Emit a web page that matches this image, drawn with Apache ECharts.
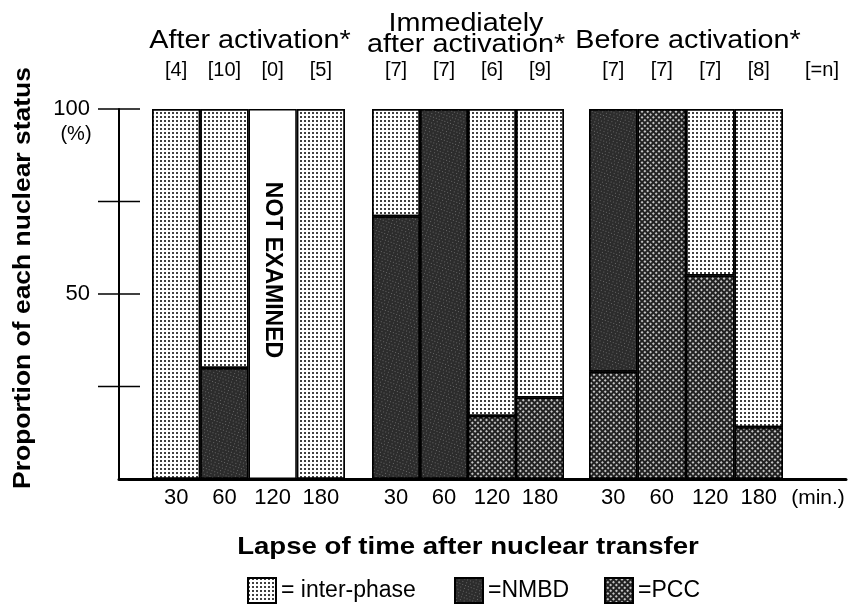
<!DOCTYPE html>
<html><head><meta charset="utf-8">
<script src="https://cdn.jsdelivr.net/npm/echarts@6/dist/echarts.min.js"></script>
<style>html,body{margin:0;padding:0;background:#fff}#c{width:850px;height:606px}</style>
</head><body><div id="c"></div>
<script>
// ---- data ----
const times = ['30', '60', '120', '180'];
const groupTitles = ['After activation*', 'Immediately\nafter activation*', 'Before activation*'];
const nCounts = [[4, 10, 0, 5], [7, 7, 6, 9], [7, 7, 7, 8]];
const pcc        = [[0, 0, 0, 0],     [0, 0, 17, 22],  [29, 100, 55, 14]];
const nmbd       = [[0, 30, 0, 0],    [71, 100, 0, 0], [71, 0, 0, 0]];
const interphase = [[100, 70, 0, 100],[29, 0, 83, 78], [0, 0, 45, 86]];
const notExamined= [[0, 0, 100, 0],   [0, 0, 0, 0],    [0, 0, 0, 0]];
const yTickValues = [25, 50, 75, 100];
const yLabelValues = [50, 100];
const legendNames = ['inter-phase', 'NMBD', 'PCC'];
const legendTexts = ['= inter-phase', '=NMBD', '=PCC'];

// ---- styles / layout ----
const FF = '"Liberation Sans", Arial, sans-serif';
const interDecal = {symbol: 'circle', symbolSize: 1, color: '#000', dashArrayX: [2, 2], dashArrayY: [2, 2], rotation: 0};
const nmbdDecal = {symbol: 'rect', symbolSize: 1, color: 'rgba(150,150,150,0.55)', dashArrayX: [[1, 2], [1, 3]], dashArrayY: [1, 2], rotation: 0.35};
const pccDecal = {symbol: 'rect', symbolSize: 1, color: 'rgba(215,215,215,0.9)', dashArrayX: [1.5, 1.5], dashArrayY: [1.5, 1.5], rotation: Math.PI / 4};
const styleOf = {
  'inter-phase': {color: '#ffffff', borderColor: '#000', borderWidth: 1.5, decal: interDecal},
  'NMBD': {color: '#2c2c2c', borderColor: '#000', borderWidth: 1.5, decal: nmbdDecal},
  'PCC': {color: '#222222', borderColor: '#000', borderWidth: 1.5, decal: pccDecal}
};
const groupLeft = [152, 372, 589];
const groupWidth = [193, 192, 194];
const titleX = [250, 466, 688];
const PLOT_TOP = 109, PLOT_BOTTOM = 127;
const TICK_HALF = 21;

const nz = v => (v === 0 ? '-' : v);

// grid 0: main axes (y axis + long baseline)
const grid = [{left: 119, right: 4, top: PLOT_TOP, bottom: PLOT_BOTTOM}];
const xAxis = [{
  gridIndex: 0, type: 'value', min: 0, max: 1,
  axisLine: {show: true, lineStyle: {color: '#000', width: 3}},
  axisTick: {show: false}, axisLabel: {show: false}, splitLine: {show: false}
}];
const yAxis = [{
  gridIndex: 0, type: 'value', min: 0, max: 100, interval: 25,
  axisLine: {show: true, lineStyle: {color: '#000', width: 2}},
  axisTick: {show: false},
  axisLabel: {show: true, margin: 29, color: '#000', fontSize: 22, fontFamily: FF,
    formatter: v => (yLabelValues.indexOf(v) >= 0 ? String(v) : '')},
  splitLine: {show: false}
}];
const series = [];
for (let g = 0; g < 3; g++) {
  grid.push({left: groupLeft[g], width: groupWidth[g], top: PLOT_TOP, bottom: PLOT_BOTTOM});
  const gi = grid.length - 1;
  xAxis.push({
    gridIndex: gi, type: 'category', data: times, position: 'bottom',
    axisLine: {show: false}, axisTick: {show: false},
    axisLabel: {color: '#000', fontSize: 22, fontFamily: FF, margin: 8, interval: 0}
  });
  const xi = xAxis.length - 1;
  xAxis.push({
    gridIndex: gi, type: 'category', data: nCounts[g].map(n => '[' + n + ']'), position: 'top',
    axisLine: {show: false}, axisTick: {show: false},
    axisLabel: {color: '#000', fontSize: 20, fontFamily: FF, margin: 29, interval: 0}
  });
  yAxis.push({gridIndex: gi, type: 'value', min: 0, max: 100, show: false});
  const yi = yAxis.length - 1;
  const common = {type: 'bar', xAxisIndex: xi, yAxisIndex: yi, stack: 's' + g,
    barWidth: '100%', barCategoryGap: '0%', silent: true};
  series.push(Object.assign({}, common, {name: 'PCC', data: pcc[g].map(nz), itemStyle: styleOf['PCC']}));
  series.push(Object.assign({}, common, {name: 'NMBD', data: nmbd[g].map(nz), itemStyle: styleOf['NMBD']}));
  series.push(Object.assign({}, common, {name: 'inter-phase', data: interphase[g].map(nz), itemStyle: styleOf['inter-phase']}));
  series.push(Object.assign({}, common, {name: 'NOT EXAMINED', data: notExamined[g].map(nz),
    itemStyle: {color: '#fff', borderColor: '#000', borderWidth: 1.5},
    label: {show: true, position: 'inside', rotate: -90, offset: [-24, 0], formatter: 'NOT EXAMINED',
      color: '#000', fontWeight: 'bold', fontSize: 23, fontFamily: FF}}));
}

const legendLeft = [247, 454, 604];
const legend = legendNames.map((name, i) => ({
  data: [{name: name, icon: 'rect'}], left: legendLeft[i], top: 577, orient: 'horizontal',
  itemWidth: 28, itemHeight: 25, padding: 0, selectedMode: false,
  formatter: () => legendTexts[i],
  textStyle: {color: '#000', fontSize: 23, fontFamily: FF}
}));

function txt(x, y, text, font, opts) {
  return Object.assign({type: 'text', x: x, y: y, silent: true,
    style: {text: text, font: font, fill: '#000', align: 'center', verticalAlign: 'middle',
      textAlign: 'center', textVerticalAlign: 'middle', lineHeight: 21}}, opts || {});
}
const graphic = [];
groupTitles.forEach((t, i) => {
  graphic.push(txt(titleX[i], t.indexOf('\n') >= 0 ? 35 : 41, t, '25px ' + FF, {scaleX: 1.15}));
});
graphic.push(txt(24, 278, 'Proportion of each nuclear status', 'bold 23px ' + FF, {rotation: Math.PI / 2, scaleX: 1.15}));
graphic.push(txt(468, 547, 'Lapse of time after nuclear transfer', 'bold 24px ' + FF, {scaleX: 1.15}));
graphic.push(txt(76, 134, '(%)', '20px ' + FF));
graphic.push(txt(822, 70, '[=n]', '20px ' + FF));
graphic.push(txt(818, 498, '(min.)', '21px ' + FF));

const chart = echarts.init(document.getElementById('c'), null, {renderer: 'canvas'});
chart.setOption({
  animation: false,
  backgroundColor: '#fff',
  grid: grid, xAxis: xAxis, yAxis: yAxis, series: series, legend: legend, graphic: graphic
});

// ticks crossing the y axis line, positioned through the axis scale
const tickLines = yTickValues.map(v => {
  const p = chart.convertToPixel({gridIndex: 0}, [0, v]);
  return {type: 'line', silent: true, z: 10,
    shape: {x1: p[0] - TICK_HALF, y1: p[1], x2: p[0] + TICK_HALF, y2: p[1]},
    style: {stroke: '#000', lineWidth: 1.5}};
});
chart.setOption({graphic: graphic.concat(tickLines)});
</script></body></html>
